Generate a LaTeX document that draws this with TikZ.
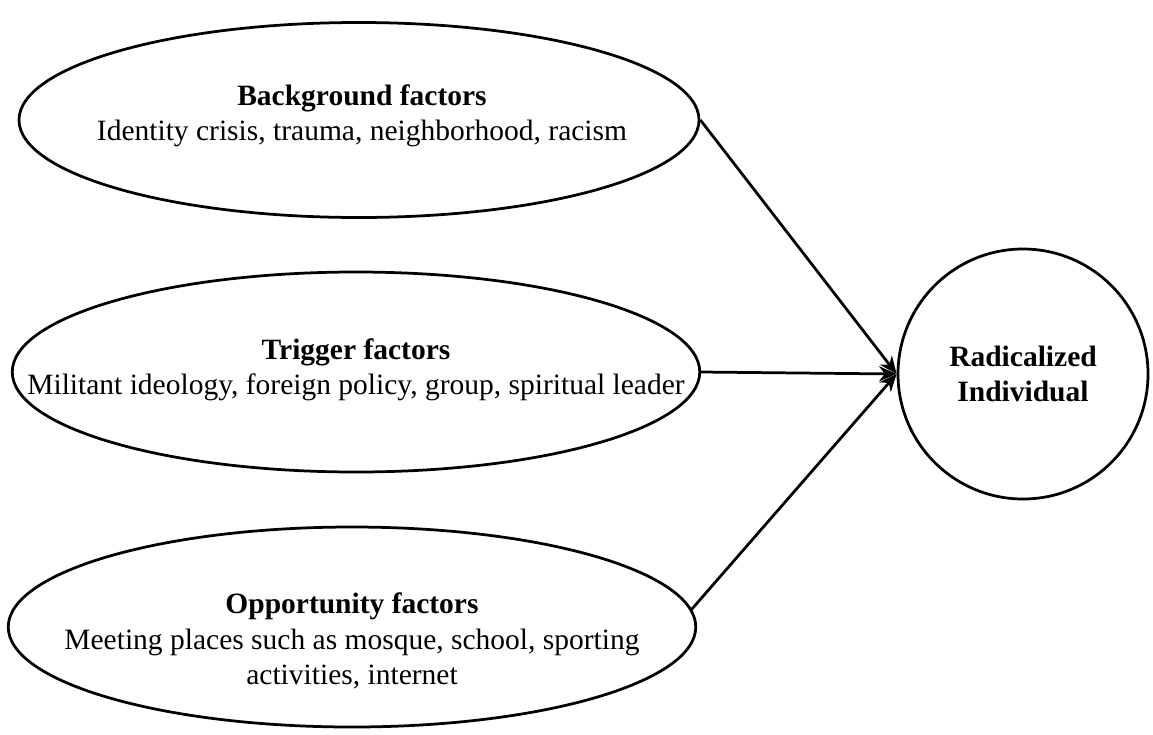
\documentclass[tikz,border=0pt]{standalone}
\usepackage{fontspec}
\setmainfont{Liberation Serif}
\usetikzlibrary{shapes.geometric,arrows.meta}

\begin{document}
\begin{tikzpicture}[x=0.4pt,y=-0.4pt]
\tikzstyle{every node}+=[inner sep=0pt, font=\fontsize{11.8}{14.2}\selectfont]
\tikzstyle{factor}=[draw, ellipse, line width=1.1pt]
\tikzstyle{link}=[line width=1.1pt, -{Stealth[length=7pt,width=6pt]}]
\useasboundingbox (0,0) rectangle (1153,734);
% the three groups of factors
\node [factor, minimum width=272pt, minimum height=78pt] (bg) at (359,120) {};
\node [align=center] (bgtext) at (362,116)
  {\textbf{Background factors}\\Identity crisis, trauma, neighborhood, racism};
\node [factor, minimum width=275pt, minimum height=80pt] (trig) at (356,372) {};
\node [align=center] (trigtext) at (356,370)
  {\textbf{Trigger factors}\\Militant ideology, foreign policy, group, spiritual leader};
\node [factor, minimum width=275pt, minimum height=80pt] (opp) at (352,627) {};
\node [align=center] (opptext) at (352,641)
  {\textbf{Opportunity factors}\\Meeting places such as mosque, school, sporting\\activities, internet};
% outcome
\node [draw, circle, line width=1.1pt, minimum size=100pt, align=center] (ind) at (1023,374)
  {\textbf{Radicalized}\\\textbf{Individual}};
\draw [link] (bg.east) -- (ind.west);
\draw [link] (trig.east) -- (ind.west);
\draw [link] (opp.3) -- (ind.west);
\end{tikzpicture}
\end{document}
